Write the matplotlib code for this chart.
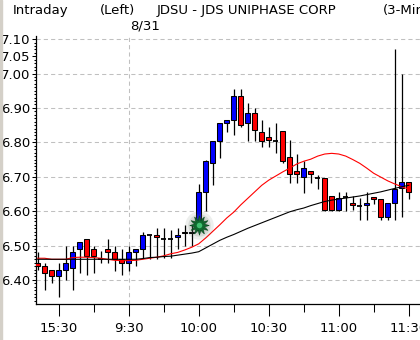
import numpy as np
import matplotlib
matplotlib.use("Agg")
import matplotlib.pyplot as plt
from matplotlib import font_manager
from matplotlib.patches import Rectangle

# 3-minute candles, JDSU, last bars of previous day then 8/31 morning
opens = [6.45, 6.44, 6.43, 6.41, 6.43, 6.435, 6.49, 6.52, 6.49, 6.46,
         6.49, 6.48, 6.46, 6.45, 6.48, 6.49, 6.53, 6.53, 6.52, 6.52,
         6.525, 6.54, 6.535, 6.545, 6.655, 6.74, 6.805, 6.855, 6.865, 6.935,
         6.857, 6.885, 6.83, 6.815, 6.805, 6.832, 6.756, 6.716, 6.698, 6.716,
         6.695, 6.695, 6.643, 6.603, 6.64, 6.623, 6.615, 6.617, 6.642, 6.634,
         6.584, 6.624, 6.666, 6.684]
highs = [6.48, 6.45, 6.43, 6.45, 6.50, 6.50, 6.51, 6.52, 6.50, 6.485,
         6.52, 6.50, 6.49, 6.50, 6.49, 6.54, 6.53, 6.55, 6.55, 6.545,
         6.55, 6.56, 6.56, 6.68, 6.75, 6.805, 6.855, 6.865, 6.955, 6.955,
         6.915, 6.90, 6.865, 6.845, 6.855, 6.832, 6.807, 6.765, 6.745, 6.716,
         6.705, 6.695, 6.645, 6.656, 6.656, 6.643, 6.637, 6.655, 6.642, 6.634,
         6.623, 7.07, 7.00, 6.684]
lows = [6.43, 6.37, 6.39, 6.35, 6.40, 6.37, 6.42, 6.415, 6.42, 6.45,
        6.45, 6.425, 6.415, 6.425, 6.44, 6.465, 6.46, 6.46, 6.465, 6.465,
        6.49, 6.50, 6.50, 6.545, 6.60, 6.675, 6.755, 6.83, 6.82, 6.845,
        6.805, 6.805, 6.785, 6.785, 6.77, 6.74, 6.683, 6.683, 6.653, 6.683,
        6.663, 6.60, 6.60, 6.60, 6.60, 6.603, 6.573, 6.573, 6.62, 6.573,
        6.573, 6.573, 6.582, 6.634]
closes = [6.44, 6.42, 6.41, 6.43, 6.45, 6.48, 6.51, 6.47, 6.47, 6.46,
          6.48, 6.46, 6.45, 6.48, 6.49, 6.53, 6.53, 6.525, 6.52, 6.52,
          6.53, 6.535, 6.54, 6.655, 6.745, 6.805, 6.855, 6.865, 6.935, 6.85,
          6.885, 6.837, 6.805, 6.807, 6.805, 6.746, 6.707, 6.707, 6.724, 6.707,
          6.695, 6.603, 6.603, 6.637, 6.64, 6.617, 6.615, 6.623, 6.636, 6.584,
          6.623, 6.663, 6.684, 6.657]

# moving averages
ma_red = [6.463, 6.463, 6.46, 6.46, 6.46, 6.465, 6.466, 6.466, 6.465, 6.463,
          6.46, 6.457, 6.456, 6.456, 6.457, 6.46, 6.463, 6.466, 6.47, 6.476,
          6.48, 6.487, 6.495, 6.505, 6.522, 6.541, 6.56, 6.58, 6.597, 6.618,
          6.637, 6.656, 6.675, 6.69, 6.702, 6.714, 6.725, 6.737, 6.745, 6.751,
          6.76, 6.766, 6.768, 6.766, 6.76, 6.75, 6.739, 6.725, 6.71, 6.699,
          6.688, 6.679, 6.671, 6.664]
ma_black = [6.46, 6.46, 6.46, 6.46, 6.46, 6.46, 6.46, 6.46, 6.46, 6.46,
            6.46, 6.46, 6.46, 6.46, 6.46, 6.462, 6.465, 6.466, 6.468, 6.469,
            6.472, 6.475, 6.478, 6.482, 6.493, 6.504, 6.515, 6.524, 6.532, 6.541,
            6.55, 6.558, 6.566, 6.574, 6.582, 6.59, 6.598, 6.604, 6.609, 6.616,
            6.622, 6.628, 6.632, 6.635, 6.638, 6.641, 6.644, 6.648, 6.652, 6.656,
            6.661, 6.666, 6.671, 6.675]

tick_pos = [3, 13, 23, 33, 43, 53]
tick_labels = ["15:30", "9:30", "10:00", "10:30", "11:00", "11:30"]
minor_pos = [8, 18, 28, 38, 48]
price_ticks = [6.40, 6.50, 6.60, 6.70, 6.80, 6.90, 7.00, 7.05, 7.10]
grid_levels = [6.40, 6.50, 6.60, 6.70, 6.80, 6.90, 7.00, 7.10]
day_break = 13
marker_bar, marker_price = 23, 6.56

names = {f.name for f in font_manager.fontManager.ttflist}
if "Liberation Sans Narrow" in names:
    fam, fs = "Liberation Sans Narrow", 13
else:
    fam, fs = "DejaVu Sans", 9.5
plt.rcParams["font.family"] = fam

W, H = 420, 340
fig = plt.figure(figsize=(W / 100, H / 100), dpi=100)
fig.patches.append(Rectangle((0, 0), 2 / W, 1, transform=fig.transFigure,
                             color="#d4d0c8", zorder=0))
ax = fig.add_axes([36 / W, 36 / H, 384 / W, (304 - 35.7) / H])

x = np.arange(len(opens))
o = np.array(opens); c = np.array(closes)
h = np.array(highs); l = np.array(lows)

for v in grid_levels:
    ax.axhline(v, color="#c0c0c0", lw=0.75, ls=(0, (4, 3)), zorder=0)
ax.axvline(day_break, color="#c0c0c0", lw=0.75, ls=(0, (4, 3)), zorder=0)

ax.vlines(x, l, h, color="black", lw=0.9, zorder=2)
up = c > o
down = c < o
flat = c == o
ax.bar(x[up], (c - o)[up], bottom=o[up], width=0.68, color="#0000ff",
       edgecolor="black", lw=0.75, zorder=3)
ax.bar(x[down], (o - c)[down], bottom=c[down], width=0.68, color="#ff0000",
       edgecolor="black", lw=0.75, zorder=3)
ax.hlines(c[flat], x[flat] - 0.34, x[flat] + 0.34, color="black", lw=1.3, zorder=3)

ax.plot(x, ma_red, color="#ff0000", lw=0.8, zorder=4)
ax.plot(x, ma_black, color="black", lw=0.8, zorder=5)

# highlight marker
for s, a in [(420, 0.10), (260, 0.15), (140, 0.2)]:
    ax.scatter(marker_bar, marker_price, s=s, color="#556655", alpha=a,
               lw=0, zorder=6)
ax.plot(marker_bar, marker_price, marker=(12, 1, 0), ms=14, color="#0f6b2e",
        mec="#0a4a20", mew=0.5, zorder=7)
ax.plot(marker_bar, marker_price, "o", ms=4, color="#3fbf6f", mew=0, zorder=8)

ax.set_xlim(-0.243, 54.61)
ax.set_ylim(6.330, 7.11)

ax.set_yticks(price_ticks)
ax.set_yticklabels([f"{p:.2f}" for p in price_ticks])
ax.set_yticks(np.arange(6.34, 7.105, 0.01), minor=True)
ax.set_xticks(tick_pos)
ax.set_xticklabels(tick_labels)
ax.set_xticks(minor_pos, minor=True)

ax.tick_params(axis="y", which="major", length=2.9, width=0.75, pad=1,
               labelsize=fs, direction="out")
ax.tick_params(axis="y", which="minor", length=1.5, width=0.75)
ax.tick_params(axis="x", which="major", length=8.6, width=0.75, pad=4,
               labelsize=fs)
ax.tick_params(axis="x", which="minor", length=5.8, width=0.75)

for side in ["top", "right"]:
    ax.spines[side].set_visible(False)
for side in ["left", "bottom"]:
    ax.spines[side].set_linewidth(0.9)

fig.text(12.7 / W, 1 - 4 / H, "Intraday", va="top", ha="left", fontsize=fs)
fig.text(100 / W, 1 - 4 / H, "(Left)", va="top", ha="left", fontsize=fs)
fig.text(157 / W, 1 - 4 / H, "JDSU - JDS UNIPHASE CORP", va="top", ha="left",
         fontsize=fs)
fig.text(383 / W, 1 - 4 / H, "(3-Minute)", va="top", ha="left", fontsize=fs)
fig.text(130 / W, 1 - 19.5 / H, "8/31", va="top", ha="left", fontsize=fs)

fig.savefig("out.png", dpi=100, facecolor="white")
